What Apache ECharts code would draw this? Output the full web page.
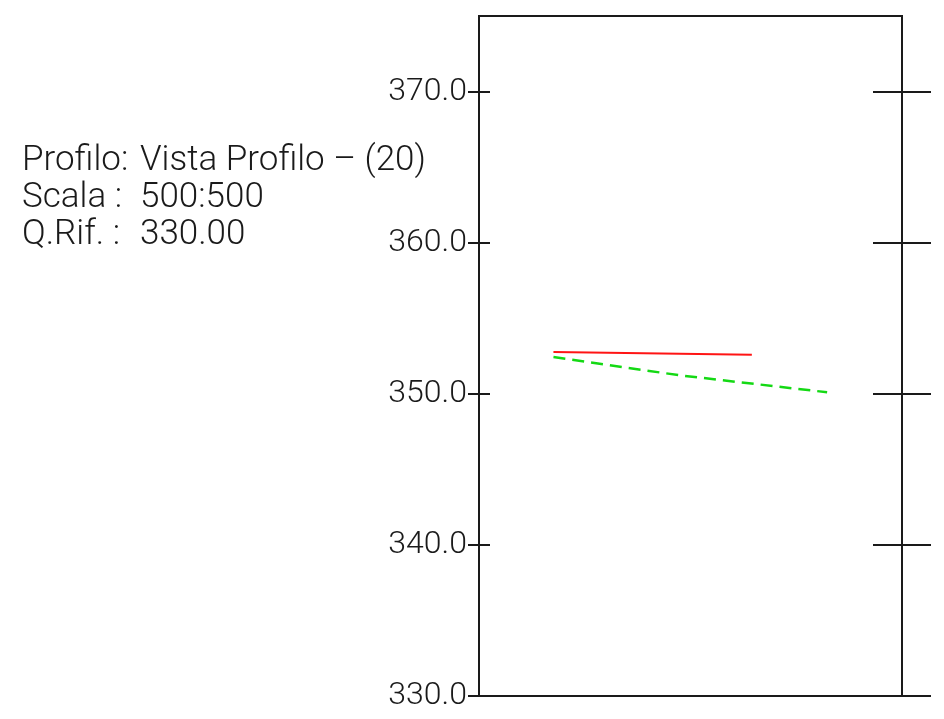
<!DOCTYPE html>
<html>
<head>
<meta charset="utf-8">
<title>Profilo</title>
<script src="https://cdn.jsdelivr.net/npm/echarts@6/dist/echarts.min.js"></script>
<style>
  html, body { margin: 0; padding: 0; background: #fff; }
  #chart { width: 944px; height: 719px; }
</style>
</head>
<body>
<div id="chart"></div>
<script>
// quote axis (m)
const yTicks = [330, 340, 350, 360, 370];
const yMin = 330;
const yMax = 375;

// progressive distance along the profile (0-100) and elevations
const redX = [17.6, 64.5];
const redY = [352.76, 352.59];
const greenX = [17.6, 47.5, 82.3];
const greenY = [352.43, 351.22, 350.1];

const infoLabels = ['Profilo:', 'Scala :', 'Q.Rif. :'];
const infoValues = ['Vista Profilo \u2013 (20)', '500:500', '330.00'];

const FONT = 'Roboto, "Liberation Sans", sans-serif';
const INK = '#1a1a1a';

function pairs(xs, ys) {
  return xs.map((x, i) => [x, ys[i]]);
}

// one y axis per tick direction, so ticks cross the frame lines
function quoteAxis(position, inside, len, withLabels) {
  return {
    type: 'value',
    position: position,
    min: yMin,
    max: yMax,
    interval: 10,
    offset: 0,
    splitLine: { show: false },
    axisLine: { show: true, lineStyle: { color: INK, width: 2 } },
    axisTick: {
      show: true,
      inside: inside,
      length: len,
      customValues: yTicks,
      lineStyle: { color: INK, width: 2 }
    },
    axisLabel: {
      show: withLabels,
      customValues: yTicks,
      margin: 12,
      formatter: v => v.toFixed(1),
      fontFamily: FONT,
      fontWeight: 300,
      fontSize: 32,
      padding: [8, 0, 0, 0],
      color: INK
    }
  };
}

const graphicTexts = [];
infoLabels.forEach((t, i) => {
  graphicTexts.push({
    type: 'text',
    left: 22,
    top: 144 + i * 37,
    style: { text: t, font: '300 35px ' + FONT, fill: INK }
  });
  graphicTexts.push({
    type: 'text',
    left: 140,
    top: 144 + i * 37,
    style: { text: infoValues[i], font: '300 35px ' + FONT, fill: INK }
  });
});

const chart = echarts.init(document.getElementById('chart'));
chart.setOption({
  animation: false,
  backgroundColor: '#fff',
  grid: {
    left: 479,
    right: 42,
    top: 16,
    bottom: 23,
    show: true,
    borderColor: INK,
    borderWidth: 2,
    backgroundColor: 'transparent'
  },
  xAxis: {
    type: 'value',
    min: 0,
    max: 100,
    show: false
  },
  yAxis: [
    quoteAxis('left', false, 11, true),
    quoteAxis('left', true, 11, false),
    quoteAxis('right', true, 29, false),
    quoteAxis('right', false, 29, false)
  ],
  graphic: graphicTexts,
  series: [
    {
      type: 'line',
      yAxisIndex: 0,
      data: pairs(redX, redY),
      symbol: 'none',
      lineStyle: { color: '#ff1414', width: 2 }
    },
    {
      type: 'line',
      yAxisIndex: 0,
      data: pairs(greenX, greenY),
      symbol: 'none',
      lineStyle: { color: '#14d914', width: 2.5, type: [12, 7] }
    }
  ]
});
</script>
</body>
</html>
